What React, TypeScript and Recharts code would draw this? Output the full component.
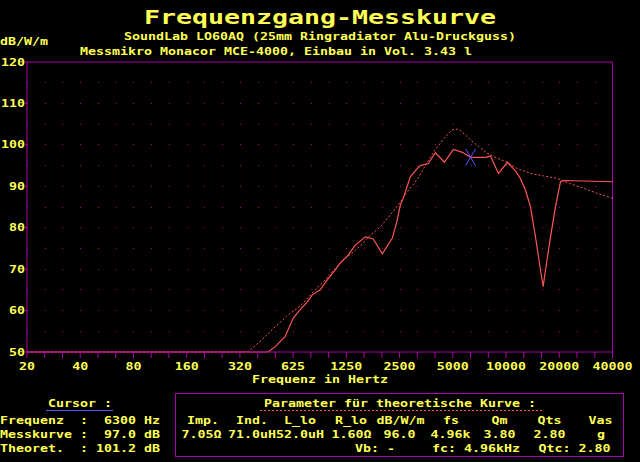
import React from 'react';
import { ComposedChart, Line, Scatter, XAxis, YAxis, ReferenceLine } from 'recharts';

const YELLOW = '#FFFF55';
const MAGENTA = '#AA00AA';
const RED = '#FF5555';
const BLUE = '#5555FF';
const FONT = '"DejaVu Sans Mono", "Liberation Mono", monospace';

// octave axis (20 .. 40000 Hz, labelled the way the measuring program does)
const octaveHz = [19.53125, 39.0625, 78.125, 156.25, 312.5, 625, 1250, 2500, 5000, 10000, 20000, 40000];
const octaveLabels = ['20', '40', '80', '160', '320', '625', '1250', '2500', '5000', '10000', '20000', '40000'];
const dbTicks = [50, 60, 70, 80, 90, 100, 110, 120];
const gridDb = [55, 60, 65, 70, 75, 80, 85, 90, 95, 100, 105, 110, 115];

// Messkurve
const measuredHz = [
  19.53125, 452, 495, 563, 626, 668, 751, 802, 890, 975, 1082, 1155, 1281, 1404, 1600, 1775, 1996, 2274,
  2427, 2524, 2625, 2876, 3150, 3277, 3635, 3984, 4480, 5036, 5664, 6300, 7643, 8160, 9058, 10186,
  11304, 12061, 12872, 13741, 14669, 15665, 16210, 16720, 17843, 19044, 20323, 21144, 40000,
];
const measuredDb = [
  50, 50, 51.3, 53.7, 58.2, 59.7, 62.1, 63.8, 65.0, 67.4, 69.8, 71.5, 73.4, 75.8, 77.8, 77.3, 73.7, 77.5,
  81.9, 85.5, 87.2, 92.3, 94.3, 95.0, 95.5, 98.1, 95.8, 98.9, 98.2, 97.0, 97.0, 97.3, 93.1, 95.8,
  93.7, 91.9, 89.1, 85.1, 77.8, 69.8, 65.8, 69.8, 77.8, 85.1, 91.1, 91.4, 91.1,
];

// theoretische Kurve
const theoryHz = [
  19.53125, 342, 365, 434, 484, 576, 686, 799, 929, 1082, 1233, 1374, 1533, 1707, 1945, 2216, 2469, 2754,
  3002, 3204, 3420, 3650, 3896, 4158, 4438, 4737, 4951, 5285, 5518, 5889, 6285, 7004, 7814, 8900,
  10140, 11553, 13738, 16338, 19453, 23140, 27520, 32776, 40000,
];
const theoryDb = [
  50, 50, 50.8, 53.7, 55.7, 58.7, 61.1, 64.2, 67.0, 70.2, 72.6, 74.2, 76.0, 78.2, 80.2, 83.1, 85.6, 88.6,
  90.5, 92.2, 94.3, 96.3, 98.3, 99.9, 101.5, 102.8, 103.6, 103.8, 103.4, 102.4, 101.2, 99.6, 98.0, 96.8,
  95.8, 94.3, 93.1, 92.5, 91.9, 90.6, 89.5, 88.3, 87.1,
];

const cursorHz = [6300];
const cursorDb = [97.0];

const measured = measuredHz.map((f, i) => ({ f, db: measuredDb[i] }));
const theory = theoryHz.map((f, i) => ({ f, db: theoryDb[i] }));
const cursor = cursorHz.map((f, i) => ({ f, db: cursorDb[i] }));

// third-octave tick marks between the labelled octaves
const xTicks = octaveHz.flatMap((f, i) =>
  i < octaveHz.length - 1 ? [f, f * Math.cbrt(2), f * Math.cbrt(4)] : [f]
);

const W = 640;
const H = 462;
const PLOT_LEFT = 27;
const PLOT_RIGHT = 612.5;
const PLOT_TOP = 62;
const PLOT_BOTTOM = 352;
const GRID_STEP = (PLOT_RIGHT - PLOT_LEFT) / (xTicks.length - 1);

function T({ x, y, s, w = 8, size = 10.5, anchor = 'start', fill = YELLOW }: any) {
  return (
    <text
      x={x}
      y={y}
      fill={fill}
      fontFamily={FONT}
      fontWeight="bold"
      fontSize={size}
      textAnchor={anchor}
      textLength={s.length * w}
      lengthAdjust="spacingAndGlyphs"
      style={{ whiteSpace: 'pre' }}
    >
      {s}
    </text>
  );
}

const XTick = ({ x, y, payload }: any) => {
  const idx = octaveHz.findIndex((f) => Math.abs(f - payload.value) < 1e-6);
  if (idx < 0) return null;
  return <T x={x} y={y + 11.5} s={octaveLabels[idx]} anchor="middle" />;
};

const YTick = ({ x, y, payload }: any) => <T x={x} y={y + 3.5} s={String(payload.value)} anchor="end" />;

const CursorMark = ({ cx, cy }: any) => (
  <g stroke={BLUE} strokeWidth={1}>
    <line x1={cx - 5} y1={cy - 8.5} x2={cx + 5} y2={cy + 8.5} />
    <line x1={cx + 5} y1={cy - 8.5} x2={cx - 5} y2={cy + 8.5} />
  </g>
);

export default function App() {
  return (
    <div style={{ position: 'absolute', left: 0, top: 0, width: W, height: H, background: '#000', overflow: 'hidden' }}>
      <ComposedChart
        width={W}
        height={H}
        margin={{ top: PLOT_TOP, right: W - PLOT_RIGHT, bottom: H - PLOT_BOTTOM - 30, left: 0 }}
      >
        <XAxis
          dataKey="f"
          type="number"
          scale="log"
          domain={[octaveHz[0], octaveHz[octaveHz.length - 1]]}
          ticks={xTicks}
          interval={0}
          height={30}
          tickSize={6}
          tickMargin={0}
          axisLine={{ stroke: MAGENTA }}
          tickLine={{ stroke: MAGENTA }}
          tick={<XTick />}
        />
        <YAxis
          dataKey="db"
          type="number"
          domain={[50, 120]}
          ticks={dbTicks}
          interval={0}
          width={PLOT_LEFT}
          tickSize={2}
          tickMargin={0}
          axisLine={{ stroke: MAGENTA }}
          tickLine={{ stroke: MAGENTA }}
          tick={<YTick />}
        />
        {gridDb.map((v) => (
          <ReferenceLine
            key={v}
            y={v}
            stroke={MAGENTA}
            strokeDasharray={`1 ${GRID_STEP - 1}`}
            shapeRendering="crispEdges"
          />
        ))}
        <ReferenceLine y={120} stroke={MAGENTA} />
        <ReferenceLine x={octaveHz[octaveHz.length - 1]} stroke={MAGENTA} />
        <Line
          data={theory}
          dataKey="db"
          type="linear"
          stroke={RED}
          strokeWidth={1}
          strokeDasharray="2 2"
          dot={false}
          activeDot={false}
          isAnimationActive={false}
        />
        <Line
          data={measured}
          dataKey="db"
          type="linear"
          stroke={RED}
          strokeWidth={1.2}
          dot={false}
          activeDot={false}
          isAnimationActive={false}
        />
        <Scatter data={cursor} dataKey="db" shape={<CursorMark />} isAnimationActive={false} />
      </ComposedChart>

      <svg width={W} height={H} style={{ position: 'absolute', left: 0, top: 0, pointerEvents: 'none' }}>
        <T x={144} y={24} s="Frequenzgang-Messkurve" w={16} size={19.5} />
        <T x={124} y={40} s="SoundLab LO60AQ (25mm Ringradiator Alu-Druckguss)" />
        <T x={0} y={44.5} s="dB/W/m" />
        <T x={80} y={54.5} s="Messmikro Monacor MCE-4000, Einbau in Vol. 3.43 l" />
        <T x={252} y={382.5} s="Frequenz in Hertz" />

        <T x={48} y={406.5} s="Cursor :" />
        <line x1={46} y1={410.5} x2={113} y2={410.5} stroke={BLUE} />
        <T x={0} y={424} s="Frequenz  :  6300 Hz" />
        <T x={0} y={438} s="Messkurve :  97.0 dB" />
        <T x={0} y={451.5} s="Theoret.  : 101.2 dB" />

        <rect x={175.5} y={393.5} width={448} height={63} fill="none" stroke={MAGENTA} />
        <T x={264} y={406.5} s="Parameter für theoretische Kurve :" />
        <line x1={260} y1={410.5} x2={542} y2={410.5} stroke={RED} strokeDasharray="2 2" />

        <T x={187} y={424} s="Imp." />
        <T x={236} y={424} s="Ind." />
        <T x={284} y={424} s="L_lo" />
        <T x={335} y={424} s="R_lo" />
        <T x={376.5} y={424} s="dB/W/m" />
        <T x={443} y={424} s="fs" />
        <T x={491.5} y={424} s="Qm" />
        <T x={537.5} y={424} s="Qts" />
        <T x={588.5} y={424} s="Vas" />

        <T x={181.5} y={438} s="7.05Ω" />
        <T x={228} y={438} s="71.0uH52.0uH" />
        <T x={331.5} y={438} s="1.60Ω" />
        <T x={383.5} y={438} s="96.0" />
        <T x={430.5} y={438} s="4.96k" />
        <T x={483.5} y={438} s="3.80" />
        <T x={533.5} y={438} s="2.80" />
        <T x={597} y={438} s="g" />

        <T x={355} y={451.5} s="Vb: -" />
        <T x={432} y={451.5} s="fc: 4.96kHz" />
        <T x={538.5} y={451.5} s="Qtc: 2.80" />
      </svg>
    </div>
  );
}
